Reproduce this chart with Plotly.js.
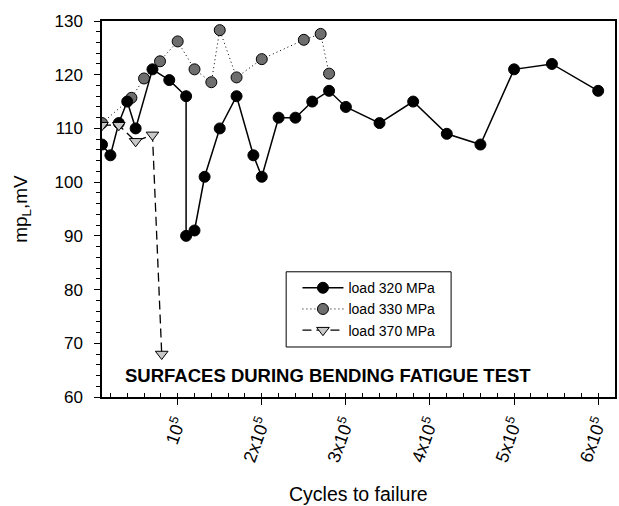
<!DOCTYPE html>
<html><head><meta charset="utf-8">
<script src="https://cdn.plot.ly/plotly-3.0.1.min.js"></script>
<style>html,body{margin:0;padding:0;background:#fff}#chart{width:619px;height:506px}</style>
</head><body><div id="chart"></div>
<script>
const x320 = [1e4,2e4,3e4,4e4,5e4,7e4,9e4,1.1e5,1.1e5,1.2e5,1.32e5,1.5e5,1.7e5,1.9e5,2e5,2.2e5,2.4e5,2.6e5,2.8e5,3e5,3.4e5,3.8e5,4.2e5,4.6e5,5e5,5.45e5,6e5];
const y320 = [107,105,111,115,110,121,119,116,90,91,101,110,116,105,101,112,112,115,117,114,111,115,109,107,121,122,117];
const x330 = [1e4,4.5e4,6e4,7.9e4,1e5,1.2e5,1.4e5,1.5e5,1.7e5,2e5,2.5e5,2.7e5,2.8e5];
const y330 = [111,115.7,119.3,122.5,126.2,121,118.6,128.3,119.5,122.9,126.5,127.6,120.2];
const x370 = [1e4,3e4,5e4,7e4,8.1e4];
const y370 = [110.6,110.6,107.6,108.8,68];
const xTickVals = [1e5,2e5,3e5,4e5,5e5,6e5];
const xTickText = ['10<sup>5</sup>','2x10<sup>5</sup>','3x10<sup>5</sup>','4x10<sup>5</sup>','5x10<sup>5</sup>','6x10<sup>5</sup>'];
const yTickVals = [60,70,80,90,100,110,120,130];

const traces = [
  {x:x330,y:y330,name:'load 330 MPa',mode:'lines+markers',legendrank:2,
   line:{color:'#000',width:1,dash:'1px,3px'},
   marker:{symbol:'circle',size:11,color:'#6e6e6e',line:{color:'#000',width:1}}},
  {x:x320,y:y320,name:'load 320 MPa',mode:'lines+markers',legendrank:1,
   line:{color:'#000',width:1.5},
   marker:{symbol:'circle',size:11,color:'#000',line:{color:'#000',width:1}}},
  {x:x370,y:y370,name:'load 370 MPa',mode:'lines+markers',legendrank:3,
   line:{color:'#000',width:1.3,dash:'9px,5px'},
   marker:{symbol:'triangle-down',size:11,color:'#c8c8c8',line:{color:'#000',width:1}}}
];
const layout = {
  width:619,height:506,
  margin:{l:102,r:4,t:21,b:109},
  paper_bgcolor:'#fff',plot_bgcolor:'#fff',
  font:{family:'Liberation Sans, Arial, sans-serif',color:'#000',size:16},
  showlegend:true,
  legend:{x:0.381,y:0.332,xanchor:'left',yanchor:'top',traceorder:'normal',itemwidth:41,
    borderwidth:0,bgcolor:'rgba(0,0,0,0)',font:{size:14},tracegroupgap:0},
  shapes:[{type:'rect',xref:'paper',yref:'paper',x0:0.359,x1:0.6805,y0:0.133,y1:0.333,
    line:{color:'#000',width:1},fillcolor:'#fff',layer:'below'}],
  xaxis:{range:[1e4,6.2e5],tickvals:xTickVals,ticktext:xTickText,tickangle:-70,
    ticks:'outside',ticklen:6,tickwidth:1,tickcolor:'#000',
    minor:{dtick:2e4,tick0:0,ticks:'inside',ticklen:4,tickcolor:'#000'},
    showline:true,linecolor:'#000',linewidth:1.5,mirror:true,showgrid:false,zeroline:false,
    tickfont:{size:18}},
  yaxis:{range:[60,130],tickvals:yTickVals,
    ticks:'outside',ticklen:6,tickwidth:1,tickcolor:'#000',ticklabelstandoff:8,
    minor:{dtick:2,tick0:0,ticks:'outside',ticklen:4,tickcolor:'#000'},
    showline:true,linecolor:'#000',linewidth:1.5,mirror:true,showgrid:false,zeroline:false,
    tickfont:{size:17},
    title:{text:'mp<sub>L</sub>,mV',font:{size:19},standoff:22}},
  annotations:[
    {text:'<b>SURFACES DURING BENDING FATIGUE TEST</b>',xref:'paper',yref:'y',
     x:0.44,y:64,showarrow:false,font:{size:18.5,color:'#000'}},
    {text:'Cycles to failure',xref:'paper',yref:'paper',x:0.5,y:-0.258,
     xanchor:'center',yanchor:'middle',showarrow:false,font:{size:19.5,color:'#000'}}
  ]
};
Plotly.newPlot('chart',traces,layout,{displayModeBar:false});
</script></body></html>
